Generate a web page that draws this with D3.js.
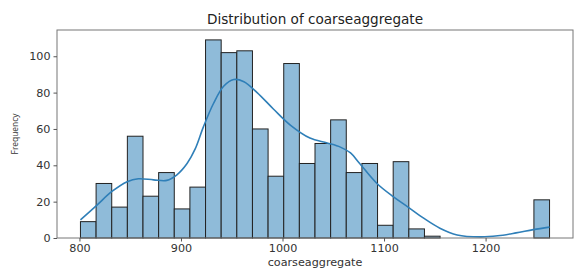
<!DOCTYPE html>
<html>
<head>
<meta charset="utf-8">
<script src="https://cdn.jsdelivr.net/npm/d3@7"></script>
<style>
  html, body { margin: 0; padding: 0; background: #ffffff; }
  svg { display: block; }
  text { font-family: "DejaVu Sans", sans-serif; }
</style>
</head>
<body>
<svg id="chart" width="587" height="275"></svg>
<script>
// ---- data ----
const dataMin = 801;
const dataMax = 1263;
const binCount = 30;
const counts = [9, 30, 17, 56, 23, 36, 16, 28, 109, 102, 103, 60, 34, 96, 41, 52, 65, 36, 41, 7, 42, 5, 1, 0, 0, 0, 0, 0, 0, 21];
const kdeX = [801, 817, 832, 847, 858, 873, 886, 896, 906, 914, 922, 932, 942, 952, 962, 975, 991, 1008, 1027, 1044, 1057, 1067, 1076, 1093, 1109, 1123, 1139, 1155, 1172, 1195, 1212, 1230, 1247, 1263];
const kdeY = [10, 18, 25.6, 31, 32.6, 32, 31.7, 34.8, 41, 49, 61, 74, 83.5, 87.2, 86, 80, 71, 62, 55, 52.3, 50, 46.8, 41, 30, 22.8, 17.3, 10.9, 5.4, 1.7, 0.6, 1.2, 2.8, 4.6, 6];
const xTicks = [800, 900, 1000, 1100, 1200];
const yTicks = [0, 20, 40, 60, 80, 100];
const title = "Distribution of coarseaggregate";
const xLabel = "coarseaggregate";
const yLabel = "Frequency";

// ---- layout ----
const L = 57, R = 573, T = 30, B = 238;
const svg = d3.select("#chart");

const span = dataMax - dataMin;
const x = d3.scaleLinear().domain([dataMin - 0.05 * span, dataMax + 0.05 * span]).range([L, R]);
const yMax = d3.max(counts) * 1.05;
const y = d3.scaleLinear().domain([0, yMax]).range([B, T]);

const binW = span / binCount;
const bins = counts.map((c, i) => ({ x0: dataMin + i * binW, x1: dataMin + (i + 1) * binW, c }));

// bars
svg.append("g").selectAll("rect").data(bins.filter(d => d.c > 0)).join("rect")
  .attr("x", d => x(d.x0))
  .attr("y", d => y(d.c))
  .attr("width", d => x(d.x1) - x(d.x0))
  .attr("height", d => y(0) - y(d.c))
  .attr("fill", "rgb(143,187,217)")
  .attr("stroke", "#222")
  .attr("stroke-width", 1);

// kde
const line = d3.line().x((d, i) => x(kdeX[i])).y(d => y(d)).curve(d3.curveCatmullRom.alpha(0.5));
svg.append("path").datum(kdeY)
  .attr("d", line)
  .attr("fill", "none")
  .attr("stroke", "#2f7fb8")
  .attr("stroke-width", 1.6);

// frame
svg.append("rect").attr("x", L).attr("y", T).attr("width", R - L).attr("height", B - T)
  .attr("fill", "none").attr("stroke", "#777").attr("stroke-width", 1);

// axes
const xAxis = d3.axisBottom(x).tickValues(xTicks).tickSize(3.5).tickPadding(2.5).tickFormat(d3.format("d"));
const gx = svg.append("g").attr("transform", `translate(0,${B})`).call(xAxis);
const yAxis = d3.axisLeft(y).tickValues(yTicks).tickSize(3.5).tickPadding(3).tickFormat(d3.format("d"));
const gy = svg.append("g").attr("transform", `translate(${L},0)`).call(yAxis);
[gx, gy].forEach(g => {
  g.select(".domain").remove();
  g.selectAll(".tick line").attr("stroke", "#555");
  g.selectAll(".tick text").attr("fill", "#333").style("font-size", "11.2px").style("font-family", "DejaVu Sans");
});

// labels
svg.append("text").attr("x", (L + R) / 2).attr("y", 24).attr("text-anchor", "middle")
  .style("font-size", "13.6px").attr("fill", "#222").text(title);
svg.append("text").attr("x", (L + R) / 2).attr("y", 266).attr("text-anchor", "middle")
  .style("font-size", "11.2px").attr("fill", "#333").text(xLabel);
svg.append("text").attr("transform", `translate(18,${(T + B) / 2}) rotate(-90)`).attr("text-anchor", "middle")
  .style("font-size", "8.4px").style("font-family", "Open Sans, sans-serif").attr("fill", "#333").text(yLabel);
</script>
</body>
</html>
